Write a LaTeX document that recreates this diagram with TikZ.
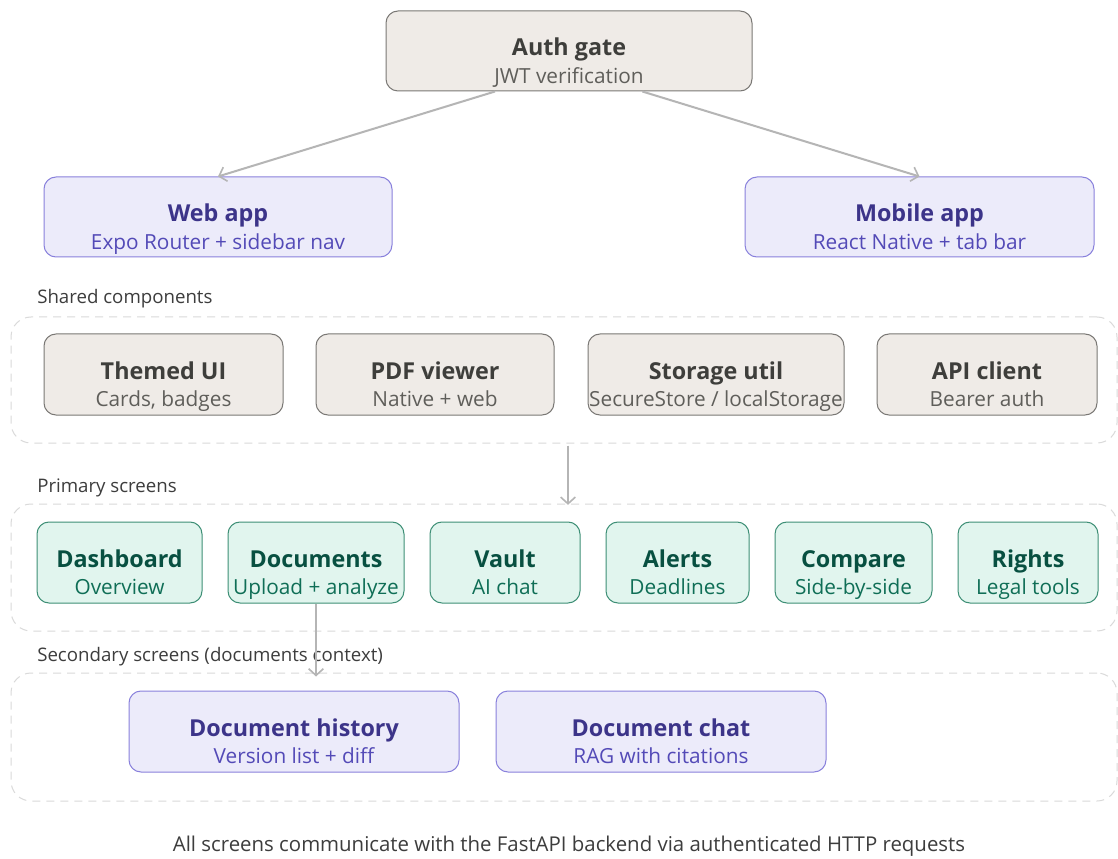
\documentclass[tikz,border=0pt]{standalone}
\usepackage{fontspec}
\setmainfont{Open Sans}
\usetikzlibrary{arrows.meta}
\definecolor{gfill}{HTML}{EFEBE7}
\definecolor{gstroke}{HTML}{7A7875}
\definecolor{gtitle}{HTML}{3E3E3B}
\definecolor{gsub}{HTML}{5F5E5A}
\definecolor{pfill}{HTML}{ECEBFA}
\definecolor{pstroke}{HTML}{8981DC}
\definecolor{ptitle}{HTML}{3C3489}
\definecolor{psub}{HTML}{534AB7}
\definecolor{tfill}{HTML}{E1F5EE}
\definecolor{tstroke}{HTML}{3E8F76}
\definecolor{ttitle}{HTML}{085041}
\definecolor{tsub}{HTML}{0F6E56}
\definecolor{arr}{HTML}{B5B5B5}
\definecolor{dashc}{HTML}{DADADA}
\definecolor{labc}{HTML}{3D3D3D}
\tikzset{
  box/.style={rounded corners=9pt, inner sep=0pt, line width=0.75pt},
  gbox/.style={box, draw=gstroke, fill=gfill},
  pbox/.style={box, draw=pstroke, fill=pfill},
  tbox/.style={box, draw=tstroke, fill=tfill},
  ttlbase/.style={anchor=base, inner sep=0pt, font=\fontsize{17.5}{20}\selectfont\bfseries},
  subbase/.style={anchor=base, inner sep=0pt, font=\fontsize{15.6}{20}\selectfont},
  gttl/.style={ttlbase, text=gtitle}, gsub/.style={subbase, text=gsub},
  pttl/.style={ttlbase, text=ptitle}, psub/.style={subbase, text=psub},
  tttl/.style={ttlbase, text=ttitle}, tsub/.style={subbase, text=tsub},
  cont/.style={rounded corners=15pt, inner sep=0pt, draw=dashc, line width=0.75pt, dash pattern=on 6pt off 4.5pt},
  lab/.style={anchor=base west, inner sep=0pt, text=labc, font=\fontsize{14}{16}\selectfont},
  conn/.style={draw=arr, line width=1.5pt, -{Straight Barb[length=5pt,width=11pt,line width=1.2pt]}},
}
% #1 family (g/p/t), #2 name, #3 x1, #4 y1, #5 x2, #6 y2, #7 title, #8 subtitle
\newcommand\bx[8]{%
  \node[#1box, minimum width={(#5-#3)*0.75pt}, minimum height={(#6-#4)*0.75pt}] (#2) at ({(#3+#5)/2},{(#4+#6)/2}) {};
  \node[#1ttl] (#2-t) at ([yshift=-3.6pt]#2.center) {#7};
  \node[#1sub] (#2-s) at ([yshift=-24.3pt]#2.center) {#8};
}
\newcommand\ct[5]{%
  \node[cont, minimum width={(#4-#2)*0.75pt}, minimum height={(#5-#3)*0.75pt}] (#1) at ({(#2+#4)/2},{(#3+#5)/2}) {};
}
\begin{document}
\begin{tikzpicture}[x=0.75pt,y=-0.75pt]
\useasboundingbox (0,0) rectangle (1118,859);
\fill[white] (0,0) rectangle (1118,859);

% top
\bx{g}{auth}{386}{11}{752}{91}{Auth gate}{JWT verification}
\bx{p}{web}{44}{177}{392}{257}{Web app}{Expo Router + sidebar nav}
\bx{p}{mob}{745}{177}{1094}{257}{Mobile app}{React Native + tab bar}

% shared
\node[lab] (lsc) at (37,304) {Shared components};
\ct{sc}{11}{317}{1117}{443}
\bx{g}{themed}{44}{334}{283}{415}{Themed UI}{Cards, badges}
\bx{g}{pdf}{316}{334}{554}{415}{PDF viewer}{Native + web}
\bx{g}{stor}{588}{334}{844}{415}{Storage util}{SecureStore / localStorage}
\bx{g}{api}{877}{334}{1097}{415}{API client}{Bearer auth}

% primary
\node[lab] (lpc) at (37,492) {Primary screens};
\ct{pc}{11}{504}{1117}{631}
\bx{t}{dashb}{37}{522}{202}{603}{Dashboard}{Overview}
\bx{t}{docs}{228}{522}{404}{603}{Documents}{Upload + analyze}
\bx{t}{vault}{430}{522}{580}{603}{Vault}{AI chat}
\bx{t}{alerts}{606}{522}{749}{603}{Alerts}{Deadlines}
\bx{t}{comp}{775}{522}{932}{603}{Compare}{Side-by-side}
\bx{t}{rights}{958}{522}{1098}{603}{Rights}{Legal tools}

% secondary
\node[lab] (lsec) at (37,661) {Secondary screens (documents context)};
\ct{sec}{11}{673}{1117}{801}
\bx{p}{hist}{129}{691}{459}{772}{Document history}{Version list + diff}
\bx{p}{chat}{496}{691}{826}{772}{Document chat}{RAG with citations}

% footer
\node[anchor=base, inner sep=0pt, text=labc, font=\fontsize{15.3}{18}\selectfont] (foot) at (569,851)
  {All screens communicate with the FastAPI backend via authenticated HTTP requests};

% connectors
\draw[conn] ([xshift=-55.5pt]auth.south) -- (web.north);
\draw[conn] ([xshift=55pt]auth.south) -- (mob.north);
\draw[conn] ([xshift=3pt,yshift=-1.5pt]sc.south) -- ([xshift=3pt,yshift=-1pt]pc.north);
\draw[conn] (docs.south) -- ([yshift=-3pt]docs.south |- sec.north);
\end{tikzpicture}
\end{document}
